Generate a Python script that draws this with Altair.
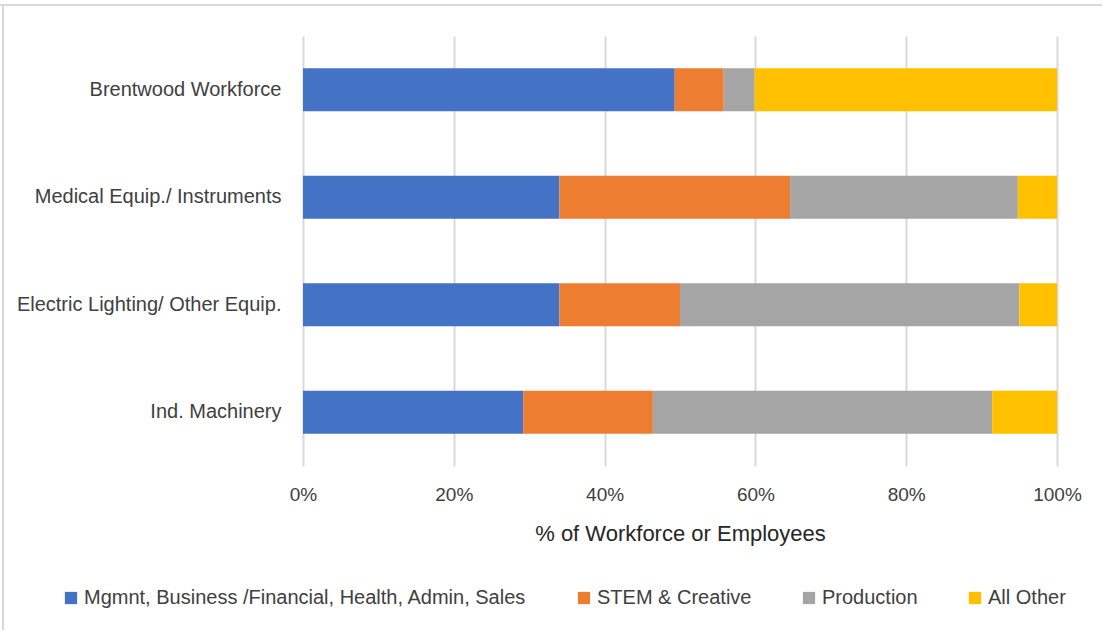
import altair as alt
import pandas as pd

# Occupational mix by workforce group (share of employees)
groups = [
    "Brentwood Workforce",
    "Medical Equip./ Instruments",
    "Electric Lighting/ Other Equip.",
    "Ind. Machinery",
]
series = [
    "Mgmnt, Business /Financial, Health, Admin, Sales",
    "STEM & Creative",
    "Production",
    "All Other",
]
colors = ["#4472C4", "#ED7D31", "#A5A5A5", "#FFC000"]

mgmt = [0.493, 0.340, 0.340, 0.292]
stem = [0.065, 0.306, 0.160, 0.172]
production = [0.041, 0.302, 0.450, 0.450]
other = [0.401, 0.052, 0.050, 0.086]

rows = []
for i, g in enumerate(groups):
    for k, vals in enumerate([mgmt, stem, production, other]):
        rows.append({"group": g, "series": series[k], "order": k, "share": vals[i]})
df = pd.DataFrame(rows)

FONT = "Liberation Sans"

bars = alt.Chart(df).mark_bar(size=43).encode(
    y=alt.Y(
        "group:N",
        sort=groups,
        title=None,
        scale=alt.Scale(paddingInner=0.6, paddingOuter=0.3),
        axis=alt.Axis(
            domain=False, ticks=False, grid=False, labelPadding=22,
            labelFontSize=20, labelColor="#404040", labelFont=FONT,
            labelLimit=400,
        ),
    ),
    x=alt.X(
        "share:Q",
        stack="zero",
        title="% of Workforce or Employees",
        scale=alt.Scale(domain=[0, 1], nice=False),
        axis=alt.Axis(
            format="%", values=[0, 0.2, 0.4, 0.6, 0.8, 1.0],
            domain=False, ticks=False, grid=True, gridColor="#d9d9d9",
            gridWidth=2, labelPadding=19, labelFontSize=19,
            labelColor="#404040", labelFont=FONT, titleFont=FONT,
            titleFontSize=22, titleFontWeight="normal", titleColor="#262626",
            titlePadding=19, labelFlush=False,
        ),
    ),
    color=alt.Color(
        "series:N",
        sort=series,
        scale=alt.Scale(domain=series, range=colors),
        legend=alt.Legend(
            title=None, orient="none", direction="horizontal",
            legendX=-242, legendY=552, symbolType="square", symbolSize=150,
            symbolStrokeWidth=0, labelFontSize=20, labelFont=FONT,
            labelColor="#404040", labelOffset=3, columnPadding=47,
            labelLimit=600,
        ),
    ),
    order=alt.Order("order:Q"),
)

# Thin frame lines along the top and left edges of the chart
top_edge = alt.Chart(df).mark_rule(color="#d9d9d9", strokeWidth=2).encode(
    x=alt.value(-303), x2=alt.value(799), y=alt.value(-31)
)
left_edge = alt.Chart(df).mark_rule(color="#d9d9d9", strokeWidth=2).encode(
    x=alt.value(-300), y=alt.value(-31), y2=alt.value(594)
)

chart = (
    alt.layer(bars, top_edge, left_edge)
    .properties(
        width=754,
        height=430,
        autosize=alt.AutoSizeParams(type="none"),
        padding={"left": 303, "top": 36, "right": 45, "bottom": 164},
        background="white",
    )
    .configure_view(stroke=None)
)

chart.save("out.html", embed_options={"renderer": "svg", "actions": False})
